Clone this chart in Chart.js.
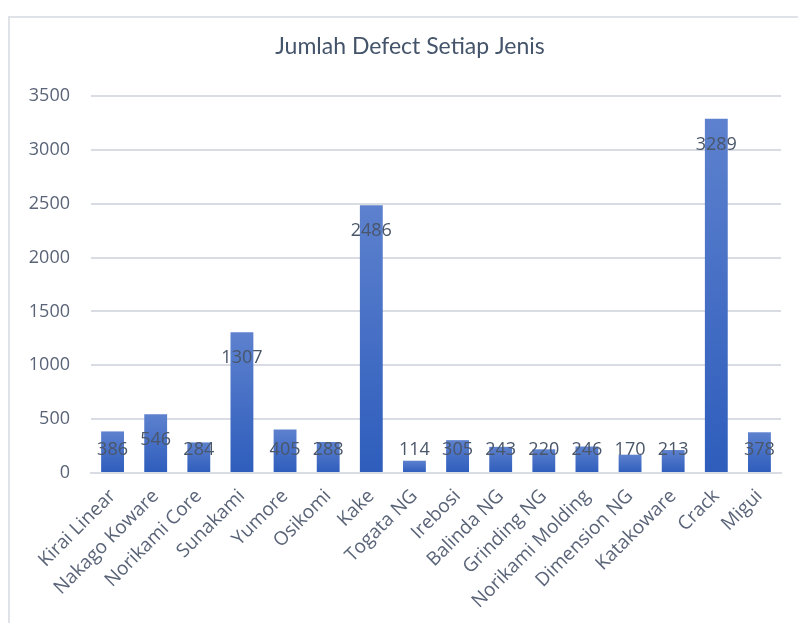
<!DOCTYPE html>
<html>
<head>
<meta charset="utf-8">
<script src="https://cdn.jsdelivr.net/npm/chart.js@4"></script>
<style>
  html, body { margin: 0; padding: 0; background: #ffffff; }
  #wrap { width: 798px; height: 623px; position: relative; }
</style>
</head>
<body>
<div id="wrap"><canvas id="c" width="798" height="623"></canvas></div>
<script>
const chartTitle = 'Jumlah Defect Setiap Jenis';
const categories = [
  'Kirai Linear', 'Nakago Koware', 'Norikami Core', 'Sunakami', 'Yumore',
  'Osikomi', 'Kake', 'Togata NG', 'Irebosi', 'Balinda NG', 'Grinding NG',
  'Norikami Molding', 'Dimension NG', 'Katakoware', 'Crack', 'Migui'
];
const defectCounts = [386, 546, 284, 1307, 405, 288, 2486, 114, 305, 243, 220, 246, 170, 213, 3289, 378];
const yTicks = [0, 500, 1000, 1500, 2000, 2500, 3000, 3500];

const textColor = '#44546A';
const tickColor = '#5a6478';
const gridColor = '#d9dde3';
const uiFont = '"Open Sans", "Noto Sans", sans-serif';
const titleFont = 'Lato, sans-serif';

// White background, light frame and the chart title
const framePlugin = {
  id: 'frame',
  beforeDraw(chart) {
    const ctx = chart.ctx;
    ctx.save();
    ctx.fillStyle = '#ffffff';
    ctx.fillRect(0, 0, chart.width, chart.height);
    ctx.strokeStyle = '#dfe3e8';
    ctx.lineWidth = 2;
    ctx.strokeRect(9, 17, chart.width + 20, chart.height + 20);
    ctx.font = '23px ' + titleFont;
    ctx.fillStyle = textColor;
    ctx.textAlign = 'center';
    ctx.textBaseline = 'middle';
    ctx.fillText(chartTitle, 410, 47);
    ctx.restore();
  }
};

// Value labels near the top of each bar, kept above the baseline
const valueLabels = {
  id: 'valueLabels',
  afterDatasetsDraw(chart) {
    const ctx = chart.ctx;
    const yScale = chart.scales.y;
    const base = yScale.getPixelForValue(0);
    const meta = chart.getDatasetMeta(0);
    ctx.save();
    ctx.font = '18px ' + uiFont;
    ctx.fillStyle = '#4a5669';
    ctx.textAlign = 'center';
    ctx.textBaseline = 'middle';
    meta.data.forEach((bar, i) => {
      const v = chart.data.datasets[0].data[i];
      const y = Math.min(bar.y + 26, base - 23);
      ctx.fillText(String(v), bar.x, y);
    });
    ctx.restore();
  }
};

function barGradient(c) {
  const chart = c.chart;
  if (!chart.chartArea || !chart.scales.y) return '#4472c4';
  const y = chart.scales.y;
  const top = y.getPixelForValue(c.raw);
  const base = y.getPixelForValue(0);
  const g = chart.ctx.createLinearGradient(0, top, 0, base);
  g.addColorStop(0, '#5d81ce');
  g.addColorStop(1, '#2e5dbc');
  return g;
}

function draw() {
  new Chart(document.getElementById('c'), {
    type: 'bar',
    data: {
      labels: categories,
      datasets: [{
        data: defectCounts,
        backgroundColor: barGradient,
        borderWidth: 0,
        categoryPercentage: 1,
        barPercentage: 0.53
      }]
    },
    options: {
      responsive: false,
      animation: false,
      events: [],
      layout: { padding: { left: 0, right: 17, top: 96, bottom: 0 } },
      plugins: {
        legend: { display: false },
        tooltip: { enabled: false },
        title: { display: false }
      },
      scales: {
        y: {
          min: 0,
          max: 3500,
          afterBuildTicks(scale) { scale.ticks = yTicks.map(v => ({ value: v })); },
          afterFit(scale) { scale.width = 91; },
          ticks: {
            color: tickColor,
            font: { family: uiFont, size: 18 },
            padding: 21,
            callback: (v) => String(v)
          },
          grid: { color: gridColor, lineWidth: 2, drawTicks: false },
          border: { display: false }
        },
        x: {
          afterFit(scale) { scale.height = 150; },
          ticks: {
            color: tickColor,
            font: { family: uiFont, size: 19 },
            minRotation: 45,
            maxRotation: 45,
            autoSkip: false,
            padding: 12
          },
          grid: { display: false, drawTicks: false },
          border: { display: true, color: gridColor, width: 2 }
        }
      }
    },
    plugins: [framePlugin, valueLabels]
  });
}

Promise.all([
  document.fonts.load('18px "Open Sans"'),
  document.fonts.load('23px Lato')
]).then(draw, draw);
</script>
</body>
</html>
